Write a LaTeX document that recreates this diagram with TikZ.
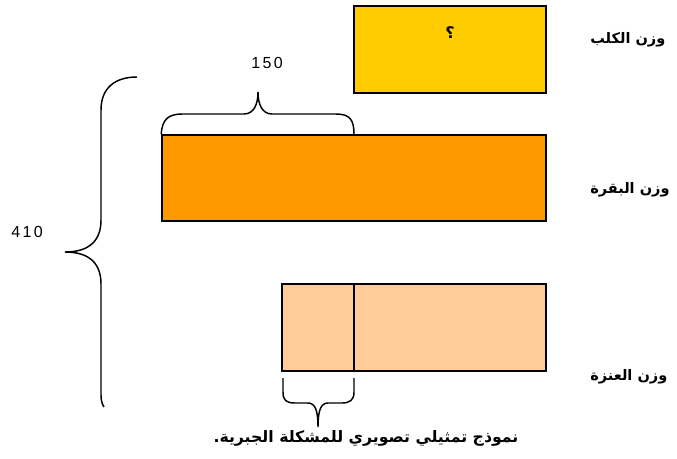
\documentclass[tikz,border=0pt]{standalone}
\usepackage{fontspec}
\usepackage{tikz}
\TeXXeTstate=1
\newfontfamily\arabicfont[Script=Arabic]{DejaVu Sans}
\newfontfamily\numfont[LetterSpace=15]{Liberation Sans}

\definecolor{dogcol}{HTML}{FFCC00}
\definecolor{cowcol}{HTML}{FF9900}
\definecolor{goatcol}{HTML}{FFCC99}

\tikzset{
    bar/.style={draw, line width=1.2pt, inner sep=0pt},
    arlabel/.style={font=\arabicfont\bfseries\fontsize{10.9}{12}\selectfont, inner sep=0pt},
    num/.style={font=\numfont\fontsize{12}{13}\selectfont, inner sep=0pt},
    brace/.style={draw, line width=1.1pt}
}

\begin{document}
\begin{tikzpicture}[x=0.75pt, y=-0.75pt]
        \useasboundingbox (0,0) rectangle (677,458);

        % Bars
        \node[bar, fill=dogcol, minimum width=144pt, minimum height=65.25pt] (dog) at (450,49.5) {};
        \node[bar, fill=cowcol, minimum width=288pt, minimum height=64.5pt] (cow) at (354,178) {};
        \node[bar, fill=goatcol, minimum width=198pt, minimum height=65.25pt] (goat) at (414,327.5) {};
        \draw[line width=1.2pt] (354,284) coordinate (split) -- (354,371) coordinate (splitbot);
        \node[font=\arabicfont\bfseries\fontsize{12}{13}\selectfont] (qmark) at (450,33) {؟};

        % Labels
        \node[arlabel, anchor=west] (doglabel) at (590,40) {\beginR وزن الكلب\endR};
        \node[arlabel, anchor=west] (cowlabel) at (590,190) {\beginR وزن البقرة\endR};
        \node[arlabel, anchor=west] (goatlabel) at (590,377) {\beginR وزن العنزة\endR};
        \node[arlabel, font=\arabicfont\bfseries\fontsize{11.8}{13}\selectfont] (caption) at (366,438) {\beginR نموذج تمثيلي تصويري للمشكلة الجبرية.\endR};
        \node[num] (partnum) at (267,63) {150};
        \node[num] (totalnum) at (27,232) {410};

        % Braces
        \draw[brace] (cow.north west) .. controls (162,120) and (168,114) .. (182,114)
            -- (244,114) .. controls (254,114) and (258,104) .. (258,92)
            .. controls (258,104) and (262,114) .. (272,114)
            -- (336,114) .. controls (350,114) and (354,120) .. (cow.north west -| split);
        \draw[brace] (137,77) .. controls (115,77) and (101,88) .. (101,110)
            -- (101,220) .. controls (101,240) and (90,252) .. (65,252)
            .. controls (90,252) and (101,264) .. (101,284)
            -- (101,395) .. controls (101,400) and (102,404) .. (104,407);
        \draw[brace] (283,378) -- (283,392) .. controls (283,400) and (286,403) .. (295,403)
            -- (308,403) .. controls (315,403) and (318,410) .. (318,427)
            .. controls (318,410) and (321,403) .. (328,403)
            -- (342,403) .. controls (350,403) and (354,400) .. (354,392) -- (354,378);
    \end{tikzpicture}
\end{document}
